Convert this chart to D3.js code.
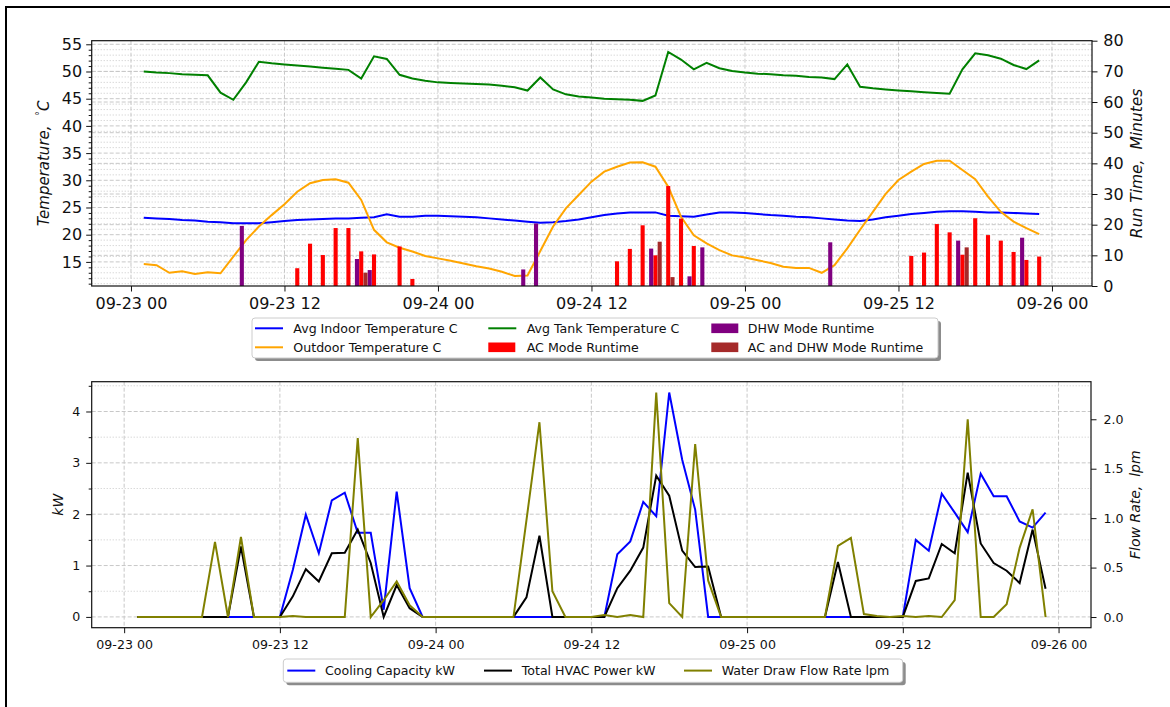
<!DOCTYPE html>
<html>
<head>
<meta charset="utf-8">
<script src="https://cdn.jsdelivr.net/npm/d3@7"></script>
<style>
  body { margin: 0; background: #fff; }
  text { font-family: "DejaVu Sans", sans-serif; }
</style>
</head>
<body>
<svg id="chart" width="1170" height="707"></svg>
<script>
// hourly samples, hours after 09-23 00:00
const hours = d3.range(1, 72);

const indoorTemp = [23.1, 23.0, 22.9, 22.7, 22.6, 22.4, 22.3, 22.1, 22.1, 22.1,
  22.3, 22.5, 22.7, 22.8, 22.9, 23.0, 23.0, 23.1, 23.2, 23.75,
  23.3, 23.3, 23.5, 23.5, 23.4, 23.3, 23.2, 23.0, 22.8, 22.6,
  22.4, 22.2, 22.3, 22.5, 22.8, 23.2, 23.6, 23.9, 24.1, 24.1,
  24.1, 23.5, 23.4, 23.3, 23.7, 24.1, 24.1, 24.0, 23.8, 23.6,
  23.5, 23.3, 23.2, 23.0, 22.8, 22.6, 22.5, 22.8, 23.2, 23.5,
  23.8, 24.0, 24.2, 24.3, 24.3, 24.2, 24.1, 24.1, 24.0, 23.9, 23.8];

const outdoorTemp = [14.6, 14.4, 13.0, 13.3, 12.8, 13.1, 12.9, 15.95, 19.0, 21.5,
  23.6, 25.6, 27.9, 29.45, 30.05, 30.2, 29.55, 26.4, 20.9, 18.6,
  17.6, 16.9, 16.1, 15.65, 15.2, 14.7, 14.2, 13.8, 13.2, 12.4,
  12.5, 17.0, 21.5, 24.85, 27.3, 29.75, 31.6, 32.5, 33.25, 33.3,
  32.5, 28.8, 23.3, 19.9, 18.4, 17.15, 16.2, 15.8, 15.3, 14.8,
  14.1, 13.9, 13.9, 13.0, 14.4, 17.5, 20.9, 24.2, 27.5, 30.05,
  31.6, 33.0, 33.6, 33.6, 31.9, 30.2, 27.0, 24.2, 22.4, 21.2, 20.1];

const tankTemp = [50.0, 49.8, 49.7, 49.5, 49.4, 49.3, 46.1, 44.8, 48.0, 51.8,
  51.5, 51.3, 51.1, 50.9, 50.7, 50.5, 50.3, 48.7, 52.8, 52.3,
  49.4, 48.7, 48.3, 48.0, 47.9, 47.8, 47.7, 47.6, 47.4, 47.1,
  46.5, 48.9, 46.7, 45.8, 45.4, 45.2, 45.0, 44.9, 44.8, 44.6,
  45.6, 53.6, 52.2, 50.4, 51.6, 50.6, 50.1, 49.8, 49.6, 49.5,
  49.3, 49.2, 49.0, 48.9, 48.6, 51.3, 47.2, 46.9, 46.7, 46.5,
  46.35, 46.2, 46.05, 45.9, 50.4, 53.35, 53.0, 52.35, 51.2, 50.45, 52.05];

// [hour, minutes]
const acRuntime = [[13, 5.8], [14, 13.8], [15, 10.1], [16, 18.9], [17, 18.9], [18, 11.3],
  [19, 10.3], [21, 12.9], [22, 2.3], [38, 8.05], [39, 12.1], [40, 19.8], [41, 10.0],
  [42, 32.6], [43, 21.95], [44, 13.05], [61, 9.8], [62, 10.9], [63, 20.2], [64, 17.5],
  [65, 10.2], [66, 22.1], [67, 16.6], [68, 14.8], [69, 11.1], [70, 8.5], [71, 9.6]];
const dhwRuntime = [[9, 19.6], [18, 8.8], [19, 5.2], [31, 5.4], [32, 20.4], [41, 12.2],
  [44, 3.15], [45, 12.6], [55, 14.25], [65, 14.8], [70, 15.75]];
const acDhwRuntime = [[18, 4.35], [41, 14.45], [42, 2.9], [65, 12.6]];

const coolingKw = [0, 0, 0, 0, 0, 0, 0, 0, 0, 0,
  0, 0, 0.92, 1.99, 1.24, 2.27, 2.42, 1.64, 1.64, 0.14,
  2.44, 0.56, 0, 0, 0, 0, 0, 0, 0, 0,
  0, 0, 0, 0, 0, 0, 0, 1.22, 1.47, 2.24,
  1.96, 4.37, 3.06, 2.09, 0, 0, 0, 0, 0, 0,
  0, 0, 0, 0, 0, 0, 0, 0, 0, 0,
  1.50, 1.29, 2.40, 2.03, 1.65, 2.79, 2.35, 2.35, 1.86, 1.74, 2.03];

const hvacKw = [0, 0, 0, 0, 0, 0, 0, 0, 1.37, 0,
  0, 0, 0.40, 0.93, 0.69, 1.24, 1.25, 1.70, 1.05, 0,
  0.62, 0.17, 0, 0, 0, 0, 0, 0, 0, 0,
  0.38, 1.58, 0, 0, 0, 0, 0, 0.56, 0.90, 1.35,
  2.75, 2.36, 1.29, 0.97, 0.98, 0, 0, 0, 0, 0,
  0, 0, 0, 0, 1.07, 0, 0, 0, 0, 0,
  0.70, 0.75, 1.42, 1.24, 2.81, 1.43, 1.05, 0.90, 0.66, 1.70, 0.55];

const flowLpm = [0, 0, 0, 0, 0, 0, 0.76, 0, 0.81, 0,
  0, 0, 0.01, 0, 0, 0, 0, 1.81, 0, 0.17,
  0.36, 0.12, 0, 0, 0, 0, 0, 0, 0, 0,
  0.98, 1.97, 0.26, 0, 0, 0, 0.02, 0, 0.02, 0,
  2.27, 0.14, 0, 1.75, 0.37, 0, 0, 0, 0, 0,
  0, 0, 0, 0, 0.72, 0.80, 0.03, 0.01, 0, 0.01,
  0, 0.01, 0, 0.17, 2.0, 0, 0, 0.13, 0.70, 1.09, 0];

const tempTicks = [15, 20, 25, 30, 35, 40, 45, 50, 55];
const runTicks = [0, 10, 20, 30, 40, 50, 60, 70, 80];
const kwTicks = [0, 1, 2, 3, 4];
const flowTicks = [0, 0.5, 1.0, 1.5, 2.0];

const svg = d3.select('#chart');
const t0 = new Date(2023, 8, 23, 0, 0);
const toDate = h => new Date(t0.getTime() + h * 36e5);
const fmt = d3.timeFormat('%m-%d %H');

// figure frame
svg.append('rect')
  .attr('x', 6).attr('y', 7).attr('width', 1190).attr('height', 730)
  .attr('fill', 'none').attr('stroke', '#000').attr('stroke-width', 2);

const hLines = (g, scale, values, x0, x1, dash) => {
  g.selectAll(null).data(values).enter().append('line')
    .attr('x1', x0).attr('x2', x1)
    .attr('y1', d => scale(d)).attr('y2', d => scale(d))
    .attr('stroke', '#c8c8c8').attr('stroke-width', 1)
    .attr('stroke-dasharray', dash);
};
const vLines = (g, scale, values, y0, y1, dash) => {
  g.selectAll(null).data(values).enter().append('line')
    .attr('y1', y0).attr('y2', y1)
    .attr('x1', d => scale(d)).attr('x2', d => scale(d))
    .attr('stroke', '#c8c8c8').attr('stroke-width', 1)
    .attr('stroke-dasharray', dash);
};

const styleAxis = (g, size) => {
  g.select('.domain').remove();
  g.selectAll('text').attr('font-size', size).attr('fill', '#111');
  g.selectAll('.tick line').attr('stroke', '#111');
};

const legend = (x, y, w, h, items, fontSize) => {
  const lg = svg.append('g');
  lg.append('rect').attr('x', x + 3).attr('y', y + 3).attr('width', w).attr('height', h)
    .attr('rx', 3).attr('fill', '#8c8c8c');
  lg.append('rect').attr('x', x).attr('y', y).attr('width', w).attr('height', h)
    .attr('rx', 3).attr('fill', '#fff').attr('stroke', '#cccccc');
  items.forEach(it => {
    if (it.type === 'line') {
      lg.append('line').attr('x1', it.hx).attr('x2', it.hx + 28)
        .attr('y1', it.y).attr('y2', it.y)
        .attr('stroke', it.color).attr('stroke-width', 2);
    } else {
      lg.append('rect').attr('x', it.hx).attr('y', it.y - 4.8)
        .attr('width', 27).attr('height', 9.6).attr('fill', it.color);
    }
    lg.append('text').attr('x', it.tx).attr('y', it.y).attr('dy', '0.35em')
      .attr('font-size', fontSize).attr('fill', '#111').text(it.label);
  });
};

// ---------- top panel ----------
const P1 = { left: 91.7, right: 1092, top: 40.7, bottom: 286 };
const xT = d3.scaleTime().domain([toDate(-3.07), toDate(75.13)]).range([P1.left, P1.right]);
const yT = d3.scaleLinear().domain([10.57, 55.66]).range([P1.bottom, P1.top]);
const yR = d3.scaleLinear().domain([0, 80]).range([P1.bottom, P1.top]);
const xTicks = d3.range(0, 73, 12).map(toDate);

const g1 = svg.append('g');
const tempMinor = d3.range(11, 56).filter(v => v % 5 !== 0);
hLines(g1, yT, tempMinor, P1.left, P1.right, '1,2');
hLines(g1, yT, tempTicks, P1.left, P1.right, '4,2');
hLines(g1, yR, runTicks.slice(1, -1), P1.left, P1.right, '4,2');
vLines(g1, xT, xTicks, P1.top, P1.bottom, '4,2');

const tempLine = vals => d3.line().x((d, i) => xT(toDate(hours[i]))).y(d => yT(d))(vals);
g1.append('path').attr('d', tempLine(indoorTemp)).attr('fill', 'none')
  .attr('stroke', '#0000ff').attr('stroke-width', 2);
g1.append('path').attr('d', tempLine(outdoorTemp)).attr('fill', 'none')
  .attr('stroke', '#ffa500').attr('stroke-width', 2);
g1.append('path').attr('d', tempLine(tankTemp)).attr('fill', 'none')
  .attr('stroke', '#008000').attr('stroke-width', 2);

const barW = 0.32;
const bars = (data, offset, color) => {
  g1.selectAll(null).data(data).enter().append('rect')
    .attr('x', d => xT(toDate(d[0] + offset - barW / 2)))
    .attr('width', d => xT(toDate(d[0] + offset + barW / 2)) - xT(toDate(d[0] + offset - barW / 2)))
    .attr('y', d => yR(d[1]))
    .attr('height', d => yR(0) - yR(d[1]))
    .attr('fill', color);
};
bars(acRuntime, 0, '#ff0000');
bars(dhwRuntime, -1 / 3, '#800080');
bars(acDhwRuntime, 1 / 3, '#a52a2a');

const axL1 = g1.append('g').attr('transform', `translate(${P1.left},0)`)
  .call(d3.axisLeft(yT).tickValues(tempTicks).tickSize(5.5).tickPadding(4));
styleAxis(axL1, 16);
const axL1m = g1.append('g').attr('transform', `translate(${P1.left},0)`)
  .call(d3.axisLeft(yT).tickValues(tempMinor).tickSize(3).tickFormat(''));
styleAxis(axL1m, 16);
const axR1 = g1.append('g').attr('transform', `translate(${P1.right},0)`)
  .call(d3.axisRight(yR).tickValues(runTicks).tickSize(5.5).tickPadding(5.8));
styleAxis(axR1, 16);
const axB1 = g1.append('g').attr('transform', `translate(0,${P1.bottom})`)
  .call(d3.axisBottom(xT).tickValues(xTicks).tickFormat(fmt).tickSize(5.5).tickPadding(6.2));
styleAxis(axB1, 16);

g1.append('rect').attr('x', P1.left).attr('y', P1.top)
  .attr('width', P1.right - P1.left).attr('height', P1.bottom - P1.top)
  .attr('fill', 'none').attr('stroke', '#111').attr('stroke-width', 1.2);

const lab1 = g1.append('text')
  .attr('transform', `translate(48.5,${(P1.top + P1.bottom) / 2}) rotate(-90)`)
  .attr('text-anchor', 'middle').attr('font-size', 15).attr('font-style', 'italic').attr('fill', '#111');
lab1.append('tspan').text('Temperature,\u00a0\u00a0');
lab1.append('tspan').attr('font-size', 10).attr('dy', -6).attr('font-style', 'normal').text('\u00b0');
lab1.append('tspan').attr('dy', 6).text('C');

g1.append('text')
  .attr('transform', `translate(1141.5,${(P1.top + P1.bottom) / 2}) rotate(-90)`)
  .attr('text-anchor', 'middle').attr('font-size', 15.5).attr('font-style', 'italic').attr('fill', '#111')
  .text('Run Time,\u00a0\u00a0Minutes');

legend(252, 318, 686, 40, [
  { type: 'line', color: '#0000ff', label: 'Avg Indoor Temperature C', hx: 255, tx: 293.3, y: 328.3 },
  { type: 'line', color: '#ffa500', label: 'Outdoor Temperature C', hx: 255, tx: 293.3, y: 347.3 },
  { type: 'line', color: '#008000', label: 'Avg Tank Temperature C', hx: 488.3, tx: 526.7, y: 328.3 },
  { type: 'patch', color: '#ff0000', label: 'AC Mode Runtime', hx: 488.3, tx: 526.7, y: 347.3 },
  { type: 'patch', color: '#800080', label: 'DHW Mode Runtime', hx: 711.3, tx: 747.8, y: 328.3 },
  { type: 'patch', color: '#a52a2a', label: 'AC and DHW Mode Runtime', hx: 711.3, tx: 747.8, y: 347.3 }
], 12.6);

// ---------- bottom panel ----------
const P2 = { left: 91.7, right: 1091, top: 381.7, bottom: 627.7 };
const xB = d3.scaleTime().domain([toDate(-2.5), toDate(74.5)]).range([P2.left, P2.right]);
const yB = d3.scaleLinear().domain([-0.21, 4.58]).range([P2.bottom, P2.top]);
const yF = d3.scaleLinear().domain([-0.108, 2.38]).range([P2.bottom, P2.top]);

const g2 = svg.append('g');
const kwMinor = [0.5, 1.5, 2.5, 3.5, 4.5];
hLines(g2, yB, kwMinor, P2.left, P2.right, '1,2');
hLines(g2, yB, kwTicks, P2.left, P2.right, '4,2');
vLines(g2, xB, xTicks, P2.top, P2.bottom, '4,2');

const kwLine = vals => d3.line().x((d, i) => xB(toDate(hours[i]))).y(d => yB(d))(vals);
g2.append('path').attr('d', kwLine(coolingKw)).attr('fill', 'none')
  .attr('stroke', '#0000ff').attr('stroke-width', 2);
g2.append('path').attr('d', kwLine(hvacKw)).attr('fill', 'none')
  .attr('stroke', '#000000').attr('stroke-width', 2);
const flowLine = d3.line().x((d, i) => xB(toDate(hours[i]))).y(d => yF(d));
g2.append('path').attr('d', flowLine(flowLpm)).attr('fill', 'none')
  .attr('stroke', '#808000').attr('stroke-width', 2);

const axL2 = g2.append('g').attr('transform', `translate(${P2.left},0)`)
  .call(d3.axisLeft(yB).tickValues(kwTicks).tickFormat(d3.format('d')).tickSize(5.5).tickPadding(6));
styleAxis(axL2, 12.6);
const axL2m = g2.append('g').attr('transform', `translate(${P2.left},0)`)
  .call(d3.axisLeft(yB).tickValues(kwMinor).tickSize(3).tickFormat(''));
styleAxis(axL2m, 12.6);
const axR2 = g2.append('g').attr('transform', `translate(${P2.right},0)`)
  .call(d3.axisRight(yF).tickValues(flowTicks).tickFormat(d3.format('.1f')).tickSize(5.5).tickPadding(7));
styleAxis(axR2, 12.6);
const axB2 = g2.append('g').attr('transform', `translate(0,${P2.bottom})`)
  .call(d3.axisBottom(xB).tickValues(xTicks).tickFormat(fmt).tickSize(5.5).tickPadding(7));
styleAxis(axB2, 12.6);

g2.append('rect').attr('x', P2.left).attr('y', P2.top)
  .attr('width', P2.right - P2.left).attr('height', P2.bottom - P2.top)
  .attr('fill', 'none').attr('stroke', '#111').attr('stroke-width', 1.2);

g2.append('text')
  .attr('transform', `translate(63,${(P2.top + P2.bottom) / 2}) rotate(-90)`)
  .attr('text-anchor', 'middle').attr('font-size', 14).attr('font-style', 'italic').attr('fill', '#111')
  .text('kW');
g2.append('text')
  .attr('transform', `translate(1139.5,${(P2.top + P2.bottom) / 2}) rotate(-90)`)
  .attr('text-anchor', 'middle').attr('font-size', 14).attr('font-style', 'italic').attr('fill', '#111')
  .text('Flow Rate,\u00a0\u00a0lpm');

legend(283.3, 659, 619.4, 23.3, [
  { type: 'line', color: '#0000ff', label: 'Cooling Capacity kW', hx: 287.3, tx: 325, y: 670.6 },
  { type: 'line', color: '#000000', label: 'Total HVAC Power kW', hx: 484, tx: 521.7, y: 670.6 },
  { type: 'line', color: '#808000', label: 'Water Draw Flow Rate lpm', hx: 684, tx: 721.7, y: 670.6 }
], 12.6);
</script>
</body>
</html>
